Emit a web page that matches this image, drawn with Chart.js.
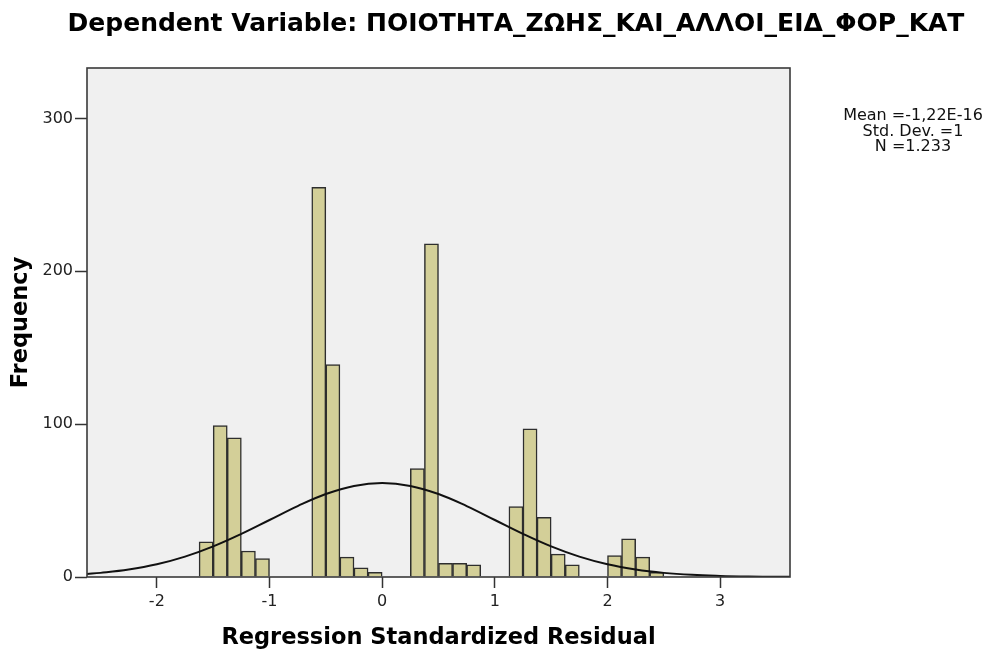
<!DOCTYPE html>
<html>
<head>
<meta charset="utf-8">
<script src="https://cdn.jsdelivr.net/npm/chart.js@4.4.1/dist/chart.umd.min.js"></script>
<style>
  html, body { margin: 0; padding: 0; background: #ffffff; }
  #wrap { width: 994px; height: 660px; position: relative; }
</style>
</head>
<body>
<div id="wrap"><canvas id="c" width="994" height="660"></canvas></div>
<script>
// ---- Data ----
const chartTitle = "Dependent Variable: ΠΟΙΟΤΗΤΑ_ΖΩΗΣ_ΚΑΙ_ΑΛΛΟΙ_ΕΙΔ_ΦΟΡ_ΚΑΤ";
const xAxisTitle = "Regression Standardized Residual";
const yAxisTitle = "Frequency";
const statsLines = ["Mean =-1,22E-16", "Std. Dev. =1", "N =1.233"];

// bin centres (bin width 0.125)
const binCenters = [
  -1.5625, -1.4375, -1.3125, -1.1875, -1.0625,
  -0.5625, -0.4375, -0.3125, -0.1875, -0.0625,
   0.3125,  0.4375,  0.5625,  0.6875,  0.8125,
   1.1875,  1.3125,  1.4375,  1.5625,  1.6875,
   2.0625,  2.1875,  2.3125,  2.4375
];
const frequencies = [
  23, 99, 91, 17, 12,
  255, 139, 13, 6, 3,
  71, 218, 9, 9, 8,
  46, 97, 39, 15, 8,
  14, 25, 13, 3
];

// fitted normal curve
const curveX = [-2.62, -2.5, -2.25, -2, -1.75, -1.5, -1.25, -1, -0.75, -0.5, -0.25, 0,
                 0.25, 0.5, 0.75, 1, 1.25, 1.5, 1.75, 2, 2.25, 2.5, 2.75, 3, 3.25, 3.5, 3.62];
const curveY = [2.0, 2.7, 4.9, 8.3, 13.3, 20.0, 28.2, 37.3, 46.4, 54.3, 59.6, 61.5,
                59.6, 54.3, 46.4, 37.3, 28.2, 20.0, 13.3, 8.3, 4.9, 2.7, 1.4, 0.7, 0.3, 0.1, 0.1];

const xTickValues = [-2, -1, 0, 1, 2, 3];
const yTickValues = [0, 100, 200, 300];

// ---- build chart ----
const barData = binCenters.map((x, i) => ({ x: x, y: frequencies[i] }));
const curveData = curveX.map((x, i) => ({ x: x, y: curveY[i] }));

const FONT = '"DejaVu Sans", "Liberation Sans", Arial, sans-serif';

const decorPlugin = {
  id: 'decor',
  beforeDatasetsDraw(chart) {
    const { ctx, chartArea: a } = chart;
    ctx.save();
    ctx.fillStyle = '#f0f0f0';
    ctx.fillRect(a.left, a.top, a.right - a.left, a.bottom - a.top);
    ctx.restore();
  },
  afterDraw(chart) {
    const { ctx, chartArea: a } = chart;
    ctx.save();
    ctx.strokeStyle = '#3a3a3a';
    ctx.lineWidth = 1.6;
    ctx.strokeRect(a.left, a.top, a.right - a.left, a.bottom - a.top);
    // title
    ctx.fillStyle = '#000';
    ctx.font = 'bold 25px ' + FONT;
    ctx.textAlign = 'center';
    ctx.textBaseline = 'alphabetic';
    ctx.fillText(chartTitle, 516, 31);
    // stats box
    ctx.font = '16px ' + FONT;
    ctx.fillStyle = '#111';
    statsLines.forEach((t, i) => ctx.fillText(t, 913, 120 + i * 15.5));
    ctx.restore();
  }
};

new Chart(document.getElementById('c'), {
  type: 'bar',
  data: {
    datasets: [
      {
        type: 'line',
        data: curveData,
        borderColor: '#111',
        borderWidth: 2,
        pointRadius: 0,
        tension: 0.4,
        fill: false,
        order: 0
      },
      {
        type: 'bar',
        data: barData,
        backgroundColor: '#d3cf98',
        borderColor: '#2e2e2e',
        borderWidth: 1.5,
        barPercentage: 1.0,
        categoryPercentage: 1.0,
        order: 1
      }
    ]
  },
  plugins: [decorPlugin],
  options: {
    responsive: false,
    animation: false,
    devicePixelRatio: 1,
    layout: { padding: { top: 68, right: 204, left: 0, bottom: 0 } },
    plugins: { legend: { display: false }, tooltip: { enabled: false }, title: { display: false } },
    scales: {
      x: {
        type: 'linear',
        offset: false,
        min: -2.62,
        max: 3.62,
        afterBuildTicks(scale) { scale.ticks = xTickValues.map(v => ({ value: v })); },
        afterFit(scale) { scale.height = 83; },
        grid: { offset: false, drawOnChartArea: false, drawTicks: true, tickLength: 11, color: '#333', tickWidth: 1.5 },
        border: { display: false },
        ticks: { color: '#222', font: { family: FONT, size: 16 }, padding: 4, maxRotation: 0 },
        title: { display: true, text: xAxisTitle, color: '#000', font: { family: FONT, size: 22.5, weight: 'bold' }, padding: { bottom: 8 } }
      },
      y: {
        type: 'linear',
        min: 0,
        max: 333,
        afterBuildTicks(scale) { scale.ticks = yTickValues.map(v => ({ value: v })); },
        afterFit(scale) { scale.width = 87; },
        grid: { drawOnChartArea: false, drawTicks: true, tickLength: 12, color: '#333', tickWidth: 1.5 },
        border: { display: false },
        ticks: { color: '#222', font: { family: FONT, size: 16 }, padding: 2 },
        title: { display: true, text: yAxisTitle, color: '#000', font: { family: FONT, size: 22.5, weight: 'bold' }, padding: { top: 8 } }
      }
    }
  }
});
</script>
</body>
</html>
